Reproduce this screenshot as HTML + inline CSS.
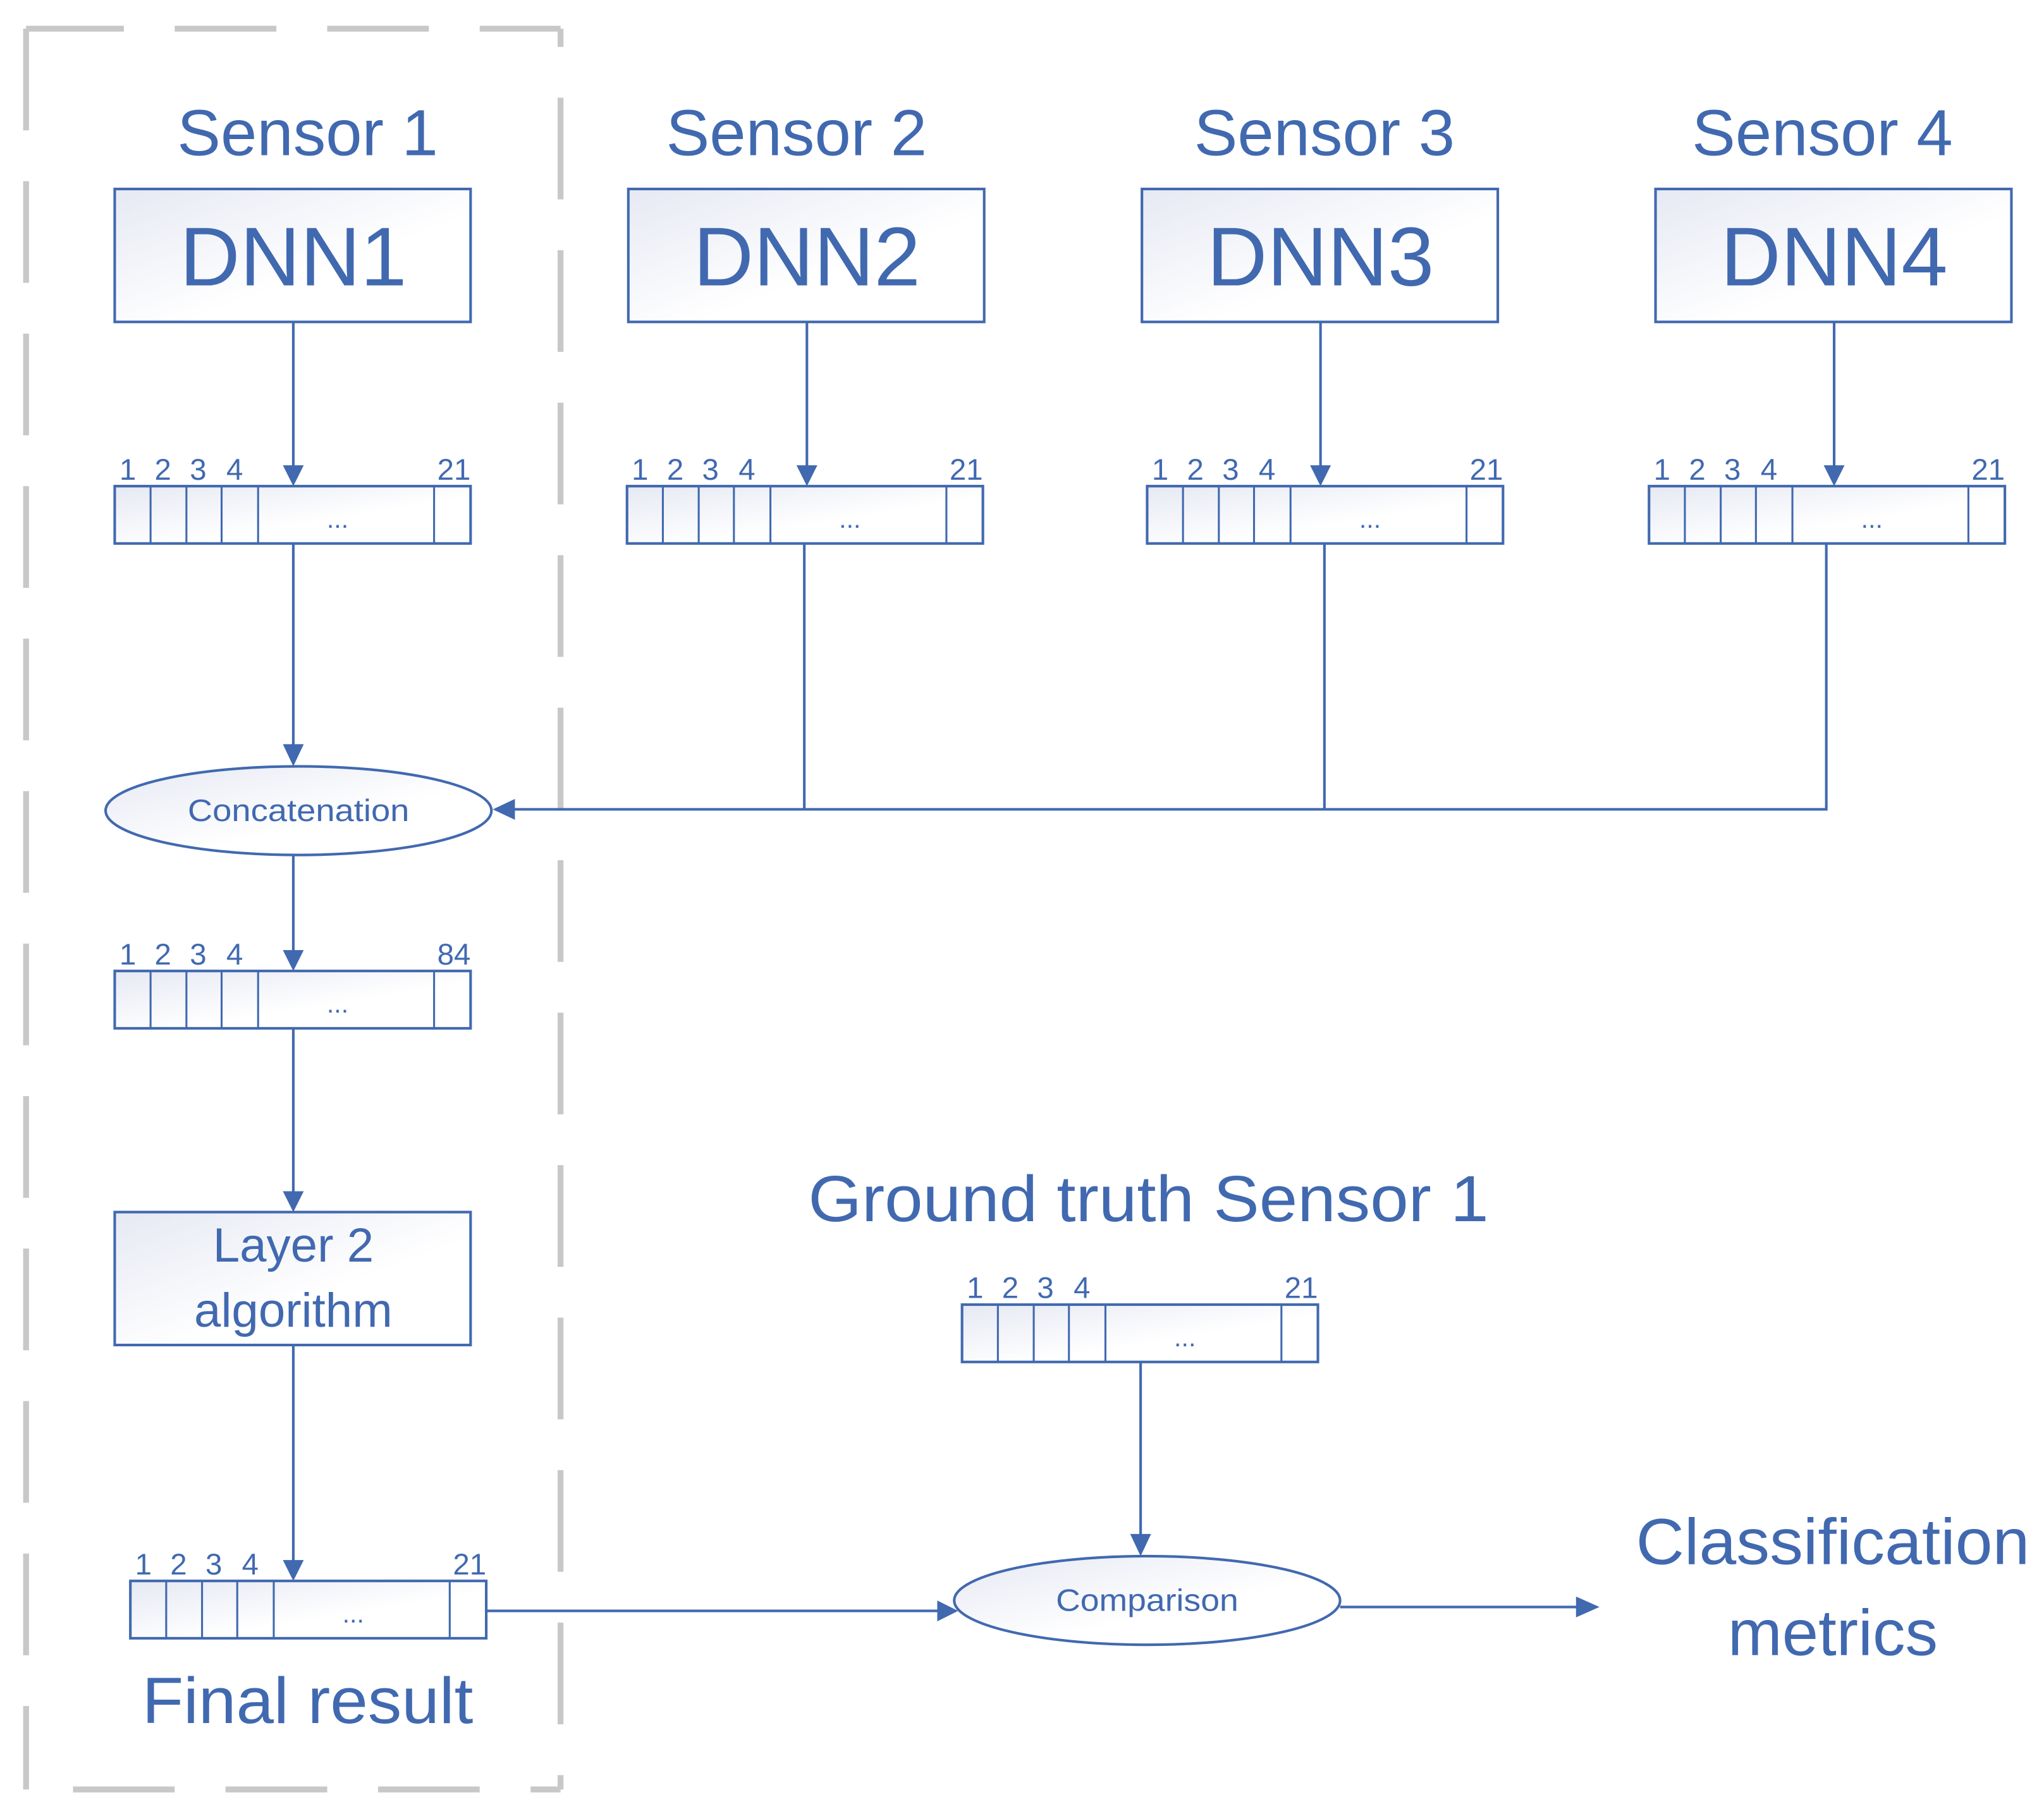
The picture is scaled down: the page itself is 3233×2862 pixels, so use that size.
<!DOCTYPE html>
<html><head><meta charset="utf-8"><style>
html,body{margin:0;padding:0;background:#fff;}
svg{display:block;}
text{font-family:"Liberation Sans",sans-serif;fill:#4169b0;}
</style></head><body>
<svg width="3233" height="2862" viewBox="0 0 1568 1388" preserveAspectRatio="none" xmlns="http://www.w3.org/2000/svg">
<defs>
<linearGradient id="g" x1="0" y1="0" x2="1" y2="1">
<stop offset="0" stop-color="#e6e9f3"/><stop offset="0.6" stop-color="#ffffff"/><stop offset="1" stop-color="#ffffff"/>
</linearGradient>
<g id="arr">
<rect x="0" y="0" width="273" height="44" fill="url(#g)" stroke="#4169b0" stroke-width="2"/>
<line x1="27.5" y1="0" x2="27.5" y2="44" stroke="#4169b0" stroke-width="1.5"/>
<line x1="55" y1="0" x2="55" y2="44" stroke="#4169b0" stroke-width="1.5"/>
<line x1="82" y1="0" x2="82" y2="44" stroke="#4169b0" stroke-width="1.5"/>
<line x1="110" y1="0" x2="110" y2="44" stroke="#4169b0" stroke-width="1.5"/>
<line x1="245" y1="0" x2="245" y2="44" stroke="#4169b0" stroke-width="1.5"/>
<text x="171" y="32" font-size="20" text-anchor="middle">...</text>
<text x="10" y="-5" font-size="23" text-anchor="middle">1</text>
<text x="37" y="-5" font-size="23" text-anchor="middle">2</text>
<text x="64" y="-5" font-size="23" text-anchor="middle">3</text>
<text x="92" y="-5" font-size="23" text-anchor="middle">4</text>
</g>
</defs>

<!-- dashed frame -->
<g stroke="#c8c8c8" stroke-width="4.5" stroke-dasharray="78 39" fill="none">
<line x1="20" y1="22" x2="430" y2="22" stroke-dashoffset="3"/>
<line x1="20" y1="22" x2="20" y2="1373" stroke-dashoffset="0"/>
<line x1="430" y1="22" x2="430" y2="1373" stroke-dashoffset="64"/>
<line x1="20" y1="1373" x2="430" y2="1373" stroke-dashoffset="81"/>
</g>

<!-- sensor labels -->
<text x="236" y="119" font-size="50" text-anchor="middle">Sensor 1</text>
<text x="611" y="119" font-size="50" text-anchor="middle">Sensor 2</text>
<text x="1016" y="119" font-size="50" text-anchor="middle">Sensor 3</text>
<text x="1398" y="119" font-size="50" text-anchor="middle">Sensor 4</text>

<!-- DNN boxes -->
<g stroke="#4169b0" stroke-width="2" fill="url(#g)">
<rect x="88" y="145" width="273" height="102"/>
<rect x="482" y="145" width="273" height="102"/>
<rect x="876" y="145" width="273" height="102"/>
<rect x="1270" y="145" width="273" height="102"/>
<rect x="88" y="930" width="273" height="102"/>
</g>
<text x="225" y="219" font-size="64" text-anchor="middle">DNN1</text>
<text x="619" y="219" font-size="64" text-anchor="middle">DNN2</text>
<text x="1013" y="219" font-size="64" text-anchor="middle">DNN3</text>
<text x="1407" y="219" font-size="64" text-anchor="middle">DNN4</text>
<text x="225" y="968" font-size="37" text-anchor="middle">Layer 2</text>
<text x="225" y="1018" font-size="37" text-anchor="middle">algorithm</text>

<!-- arrays -->
<use href="#arr" x="88" y="373"/><text x="361" y="368" font-size="23" text-anchor="end">21</text>
<use href="#arr" x="481" y="373"/><text x="754" y="368" font-size="23" text-anchor="end">21</text>
<use href="#arr" x="880" y="373"/><text x="1153" y="368" font-size="23" text-anchor="end">21</text>
<use href="#arr" x="1265" y="373"/><text x="1538" y="368" font-size="23" text-anchor="end">21</text>
<use href="#arr" x="88" y="745"/><text x="361" y="740" font-size="23" text-anchor="end">84</text>
<use href="#arr" x="100" y="1213"/><text x="373" y="1208" font-size="23" text-anchor="end">21</text>
<use href="#arr" x="738" y="1001"/><text x="1011" y="996" font-size="23" text-anchor="end">21</text>

<!-- ellipses -->
<ellipse cx="229" cy="622" rx="148" ry="34" fill="url(#g)" stroke="#4169b0" stroke-width="2"/>
<text x="229" y="630" font-size="24" text-anchor="middle" textLength="170" lengthAdjust="spacingAndGlyphs">Concatenation</text>
<ellipse cx="880" cy="1228" rx="148" ry="34" fill="url(#g)" stroke="#4169b0" stroke-width="2"/>
<text x="880" y="1236" font-size="24" text-anchor="middle" textLength="140" lengthAdjust="spacingAndGlyphs">Comparison</text>

<!-- lines -->
<g stroke="#4169b0" stroke-width="2" fill="none">
<line x1="225" y1="247" x2="225" y2="360"/>
<line x1="619" y1="247" x2="619" y2="360"/>
<line x1="1013" y1="247" x2="1013" y2="360"/>
<line x1="1407" y1="247" x2="1407" y2="360"/>
<line x1="225" y1="417" x2="225" y2="574"/>
<polyline points="617,417 617,621"/>
<polyline points="1016,417 1016,621"/>
<polyline points="1401,417 1401,621 392,621"/>
<line x1="225" y1="656" x2="225" y2="732"/>
<line x1="225" y1="789" x2="225" y2="917"/>
<line x1="225" y1="1032" x2="225" y2="1200"/>
<line x1="373" y1="1236" x2="722" y2="1236"/>
<line x1="875" y1="1045" x2="875" y2="1180"/>
<line x1="1028" y1="1233" x2="1212" y2="1233"/>
</g>
<!-- arrowheads -->
<g fill="#4169b0">
<polygon points="217,357 233,357 225,373"/>
<polygon points="611,357 627,357 619,373"/>
<polygon points="1005,357 1021,357 1013,373"/>
<polygon points="1399,357 1415,357 1407,373"/>
<polygon points="217,571 233,571 225,588"/>
<polygon points="395,613 395,629 378,621"/>
<polygon points="217,729 233,729 225,745"/>
<polygon points="217,914 233,914 225,930"/>
<polygon points="217,1197 233,1197 225,1213"/>
<polygon points="719,1228 719,1244 735,1236"/>
<polygon points="867,1177 883,1177 875,1194"/>
<polygon points="1209,1225 1209,1241 1227,1233"/>
</g>

<!-- other labels -->
<text x="236" y="1322" font-size="50" text-anchor="middle" textLength="254" lengthAdjust="spacingAndGlyphs">Final result</text>
<text x="881" y="937" font-size="50" text-anchor="middle" textLength="522" lengthAdjust="spacingAndGlyphs">Ground truth Sensor 1</text>
<text x="1406" y="1200" font-size="50" text-anchor="middle" textLength="302" lengthAdjust="spacingAndGlyphs">Classification</text>
<text x="1406" y="1270" font-size="50" text-anchor="middle">metrics</text>
</svg>
</body></html>
